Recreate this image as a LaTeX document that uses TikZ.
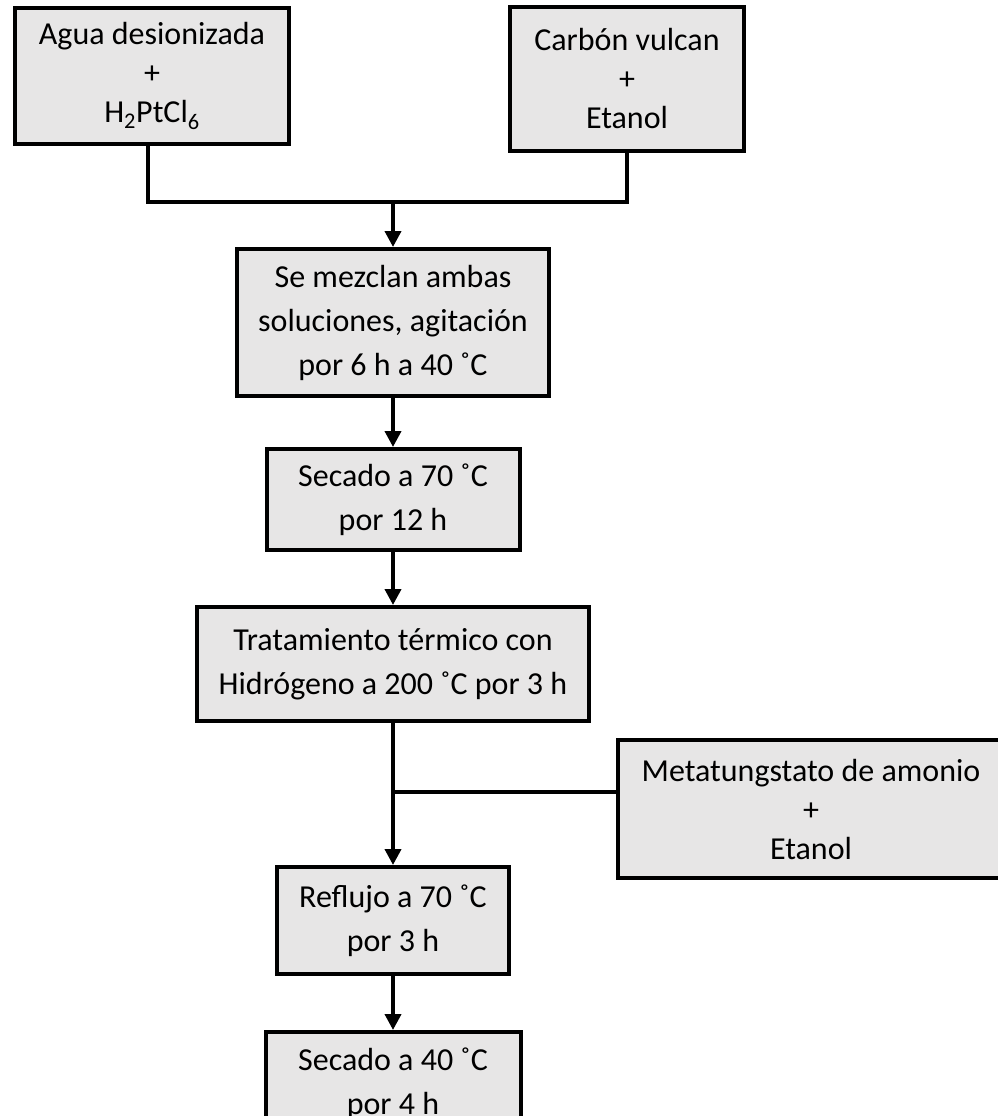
\documentclass[tikz,border=0pt]{standalone}
\usepackage{fontspec}
\setmainfont{Carlito}
\usetikzlibrary{arrows.meta,positioning}
\definecolor{boxgray}{RGB}{231,230,230}

\begin{document}
\begin{tikzpicture}[
    x=1pt, y=1pt,
    stepbox/.style={rectangle, draw=black, line width=4pt, fill=boxgray,
                 inner sep=0pt, align=center,
                 font=\fontsize{32}{44}\selectfont},
    mixbox/.style={stepbox, font=\fontsize{32}{39}\selectfont},
    link/.style={line width=3.8pt, black},
    arr/.style={link, -{Triangle[length=16pt, width=16pt]}},
  ]
  \path[use as bounding box] (0,0) rectangle (998,-1116);

  \node[stepbox, minimum width=312pt, minimum height=147pt] (mezcla) at (393,-322.5)
       {Se mezclan ambas\\soluciones, agitación\\por 6 h a 40 ˚C};
  \node[mixbox, minimum width=274pt, minimum height=136pt, above=101pt of mezcla, xshift=-241pt] (agua)
       {Agua desionizada\\+\\H\textsubscript{2}PtCl\textsubscript{6}};
  \node[mixbox, minimum width=234pt, minimum height=144pt, above=94pt of mezcla, xshift=234pt] (carbon)
       {Carbón vulcan\\+\\Etanol};

  \node[stepbox, minimum width=253pt, minimum height=101pt, below=49pt of mezcla] (secado1)
       {Secado a 70 ˚C\\por 12 h};
  \node[stepbox, minimum width=392pt, minimum height=114pt, below=53pt of secado1] (tratamiento)
       {Tratamiento térmico con\\Hidrógeno a 200 ˚C por 3 h};
  \node[mixbox, minimum width=386pt, minimum height=138pt, right=25pt of tratamiento, yshift=-145pt] (metatung)
       {Metatungstato de amonio\\+\\Etanol};
  \node[stepbox, minimum width=232pt, minimum height=107pt, below=142pt of tratamiento] (reflujo)
       {Reflujo a 70 ˚C\\por 3 h};
  % lower edge falls just outside the page
  \node[stepbox, minimum width=255pt, minimum height=104pt, below=54pt of reflujo] (secado2)
       {Secado a 40 ˚C\\por 4 h};

  \coordinate (j1) at (393,-202);
  \coordinate (j2) at (393,-792);

  \draw[link] ([xshift=-4pt]agua.south) |- (j1) -| (carbon.south);
  \draw[arr] (j1) -- (mezcla.north);
  \draw[arr] (mezcla.south) -- (secado1.north);
  \draw[arr] (secado1.south) -- (tratamiento.north);
  \draw[arr] (tratamiento.south) -- (reflujo.north);
  \draw[link] (j2) -- (j2 -| metatung.west);
  \draw[arr] (reflujo.south) -- (secado2.north);
\end{tikzpicture}
\end{document}
